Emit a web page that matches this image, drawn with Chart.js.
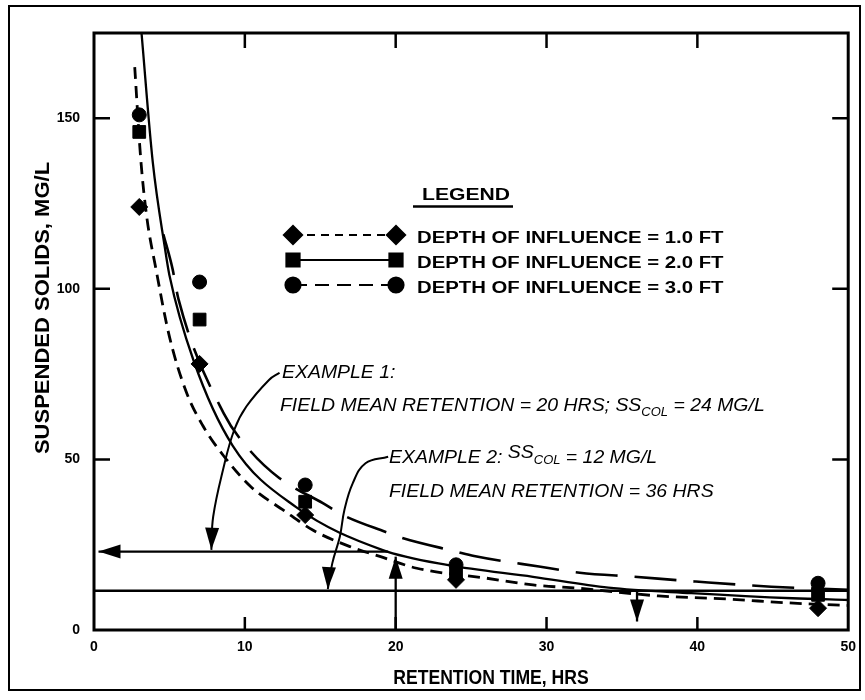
<!DOCTYPE html>
<html>
<head>
<meta charset="utf-8">
<script src="https://cdn.jsdelivr.net/npm/chart.js@4"></script>
<style>
  html, body { margin: 0; padding: 0; background: #fff; }
  #wrap { position: relative; width: 865px; height: 700px; }
  #wrap canvas { position: absolute; left: 0; top: 0; }
  #frame { position: absolute; left: 8px; top: 5px; width: 849px; height: 682px; border: 2px solid #000; pointer-events: none; }
</style>
</head>
<body>
<div id="wrap">
  <canvas id="ss-chart" width="865" height="700"></canvas>
  <div id="frame"></div>
</div>
<script>
// ==============================
// Data
// ==============================

const xTickValues = [0, 10, 20, 30, 40, 50];
const yTickValues = [0, 50, 100, 150];
const xAxisTitle = "RETENTION TIME, HRS";
const yAxisTitle = "SUSPENDED SOLIDS, MG/L";

// measured points (retention time, hrs)
const retentionTimes = [3, 7, 14, 24, 48];
const depth1Values = [124, 78, 33.7, 14.7, 6.4];   // diamonds
const depth2Values = [146, 91, 37.6, 16.6, 10.3];  // squares
const depth3Values = [151, 102, 42.5, 19.1, 13.7]; // circles

// fitted curves
const curve1X = [2.7, 3.1, 3.5, 4.1, 5.0, 6.1, 7.2, 8.6, 10.4, 12.6, 14.5, 17, 19, 21.4, 26, 29.1, 32.2, 37.4, 42.3, 45.8, 50];
const curve1Y = [165, 138, 121, 106, 86, 70, 60, 51, 42, 35, 29.3, 24.4, 21.5, 18.1, 15.2, 13.2, 12.2, 10, 9, 8, 7.2];

const curve2X = [3.15, 3.9, 4.7, 5.0, 6.6, 9.2, 13.4, 19.1, 23.5, 29.1, 34.1, 39.6, 46.3, 50];
const curve2Y = [175, 137, 112, 104, 79, 54, 36, 23.5, 19, 15.6, 12.4, 10.8, 9.3, 8.8];

const curve3X = [4.6, 5.2, 5.6, 8.6, 10.3, 12.3, 15.2, 16.5, 19.3, 20.5, 24, 25.2, 29.5, 32.2, 35.8, 39.9, 44.9, 50];
const curve3Y = [116, 106, 97, 63.5, 52.8, 44.5, 37.1, 33.7, 28.8, 26.9, 23, 21.7, 18.6, 16.8, 15.6, 14.2, 12.7, 11.8];

// worked examples
const example1LineX = [0.3, 19.5];
const example1LineY = [23, 23];
const example1RiseX = [20, 20];
const example1RiseY = [0, 21.5];
const example2LineX = [0, 50];
const example2LineY = [11.5, 11.5];
const example2DropX = [36, 36];
const example2DropY = [11.5, 2.5];

// leaders from the text to the lines
const leader1X = [7.78, 7.9, 8.55, 9.3, 10.1, 11.6, 12.3];
const leader1Y = [23.5, 33.2, 46.9, 58.7, 65.5, 73.3, 75.4];
const leader2X = [15.5, 15.8, 16.3, 16.6, 17.15, 18.0, 19.5];
const leader2Y = [12, 19.6, 27.4, 35.2, 43, 48.9, 50.8];

// arrow tips (data units) and pointing angle (deg, screen: 0 right, 90 down)
const arrowTipX = [0.3, 20, 36, 7.78, 15.5];
const arrowTipY = [23, 21.5, 2.5, 23.5, 12];
const arrowAngle = [180, 270, 90, 92, 93];

const legendLabels = [
    "DEPTH OF INFLUENCE = 1.0 FT",
    "DEPTH OF INFLUENCE = 2.0 FT",
    "DEPTH OF INFLUENCE = 3.0 FT"
];

// ==============================
// Helpers
// ==============================

const FONT = "'Liberation Sans', Arial, Helvetica, sans-serif";

function toPoints(xs, ys) {
    return xs.map(function (x, i) {
        return { x: x, y: ys[i] };
    });
}

function stretchText(ctx, str, x, y, font, sx) {
    ctx.save();
    ctx.font = font;
    ctx.textBaseline = "alphabetic";
    ctx.translate(x, y);
    ctx.scale(sx, 1);
    ctx.fillText(str, 0, 0);
    const w = ctx.measureText(str).width * sx;
    ctx.restore();
    return w;
}

function drawRuns(ctx, x, y, runs) {
    runs.forEach(function (r) {
        x += stretchText(ctx, r.t, x, y + (r.dy || 0), r.font, r.sx);
    });
}

function plainLine(xs, ys, width) {
    return {
        data: toPoints(xs, ys),
        borderColor: "#000",
        borderWidth: width,
        pointRadius: 0,
        tension: 0,
        clip: false
    };
}

// ==============================
// Plugins
// ==============================

const frameTicks = {
    id: "frameTicks",
    afterDraw(chart) {
        const { ctx, chartArea: a, scales: { x, y } } = chart;
        ctx.save();
        ctx.strokeStyle = "#000";
        ctx.lineWidth = 3;
        ctx.strokeRect(a.left, a.top, a.right - a.left, a.bottom - a.top);
        ctx.lineWidth = 2.5;
        ctx.beginPath();
        xTickValues.slice(1, -1).forEach(function (v) {
            const px = x.getPixelForValue(v);
            ctx.moveTo(px, a.bottom);
            ctx.lineTo(px, a.bottom - 13);
            ctx.moveTo(px, a.top);
            ctx.lineTo(px, a.top + 15);
        });
        yTickValues.slice(1).forEach(function (v) {
            const py = y.getPixelForValue(v);
            ctx.moveTo(a.left, py);
            ctx.lineTo(a.left + 16, py);
            ctx.moveTo(a.right, py);
            ctx.lineTo(a.right - 16, py);
        });
        ctx.stroke();

        // axis titles
        ctx.fillStyle = "#000";
        ctx.textAlign = "center";
        stretchText(ctx, xAxisTitle, 491, 684, "bold 20px " + FONT, 0.88);
        ctx.save();
        ctx.translate(49, 308);
        ctx.rotate(-Math.PI / 2);
        stretchText(ctx, yAxisTitle, 0, 0, "bold 20px " + FONT, 1.1);
        ctx.restore();
        ctx.restore();
    }
};

const annotations = {
    id: "annotations",
    afterDatasetsDraw(chart) {
        const { ctx, scales: { x, y } } = chart;
        const helpers = Chart.helpers;
        ctx.save();
        ctx.fillStyle = "#000";
        ctx.strokeStyle = "#000";
        ctx.textAlign = "left";

        // arrowheads
        arrowTipX.forEach(function (v, i) {
            const px = x.getPixelForValue(v);
            const py = y.getPixelForValue(arrowTipY[i]);
            const ang = arrowAngle[i] * Math.PI / 180;
            const dx = Math.cos(ang), dy = Math.sin(ang);
            const len = 22, half = 7;
            const bx = px - dx * len, by = py - dy * len;
            ctx.beginPath();
            ctx.moveTo(px, py);
            ctx.lineTo(bx - dy * half, by + dx * half);
            ctx.lineTo(bx + dy * half, by - dx * half);
            ctx.closePath();
            ctx.fill();
        });

        // legend
        const lgFont = "bold 16px " + FONT;
        stretchText(ctx, "LEGEND", 422, 200, "bold 16.5px " + FONT, 1.28);
        ctx.lineWidth = 2.5;
        ctx.beginPath();
        ctx.moveTo(413, 206.5);
        ctx.lineTo(513, 206.5);
        ctx.stroke();

        const rowY = [235, 260, 285];
        const rowDash = [[8, 6], [], [14, 8]];
        const rowStyle = ["rectRot", "rect", "circle"];
        const rowRadius = [9, 9.5, 7.5];
        rowY.forEach(function (ry, i) {
            ctx.lineWidth = i === 1 ? 1.8 : 2.2;
            ctx.setLineDash(rowDash[i]);
            ctx.beginPath();
            ctx.moveTo(293, ry);
            ctx.lineTo(396, ry);
            ctx.stroke();
            ctx.setLineDash([]);
            [293, 396].forEach(function (mx) {
                helpers.drawPoint(ctx, { pointStyle: rowStyle[i], radius: rowRadius[i], rotation: 0, borderWidth: 1 }, mx, ry);
                ctx.fill();
            });
            stretchText(ctx, legendLabels[i], 417, ry + 8, lgFont, 1.27);
        });

        // example texts
        const it = "italic 18px " + FONT;
        const sub = "italic 12px " + FONT;
        const sx = 1.08;
        drawRuns(ctx, 282, 378, [{ t: "EXAMPLE 1:", font: it, sx: sx }]);
        drawRuns(ctx, 280, 411, [
            { t: "FIELD MEAN RETENTION = 20 HRS; SS", font: it, sx: sx },
            { t: "COL", font: sub, sx: sx, dy: 5 },
            { t: " = 24 MG/L", font: it, sx: sx }
        ]);
        drawRuns(ctx, 389, 463, [
            { t: "EXAMPLE 2: ", font: it, sx: sx },
            { t: "SS", font: it, sx: sx, dy: -5 },
            { t: "COL", font: sub, sx: sx, dy: 1 },
            { t: " = 12 MG/L", font: it, sx: sx }
        ]);
        drawRuns(ctx, 389, 497, [{ t: "FIELD MEAN RETENTION = 36 HRS", font: it, sx: sx }]);
        ctx.restore();
    }
};

// ==============================
// Create Chart
// ==============================

const markerBase = {
    showLine: false,
    backgroundColor: "#000",
    borderColor: "#000",
    borderWidth: 1,
    clip: false
};

const ssChart = new Chart(document.getElementById("ss-chart"), {
    type: "line",
    data: {
        datasets: [
            Object.assign({ data: toPoints(retentionTimes, depth1Values), pointStyle: "rectRot", pointRadius: 8.5 }, markerBase),
            Object.assign({ data: toPoints(retentionTimes, depth2Values), pointStyle: "rect", pointRadius: 9 }, markerBase),
            Object.assign({ data: toPoints(retentionTimes, depth3Values), pointStyle: "circle", pointRadius: 7 }, markerBase),
            {
                data: toPoints(curve1X, curve1Y),
                borderColor: "#000",
                borderWidth: 2.8,
                borderDash: [12, 7],
                pointRadius: 0,
                cubicInterpolationMode: "monotone"
            },
            {
                data: toPoints(curve2X, curve2Y),
                borderColor: "#000",
                borderWidth: 2.3,
                pointRadius: 0,
                cubicInterpolationMode: "monotone"
            },
            {
                data: toPoints(curve3X, curve3Y),
                borderColor: "#000",
                borderWidth: 2.6,
                borderDash: [42, 17],
                pointRadius: 0,
                cubicInterpolationMode: "monotone"
            },
            plainLine(example1LineX, example1LineY, 2.3),
            plainLine(example1RiseX, example1RiseY, 2.3),
            plainLine(example2LineX, example2LineY, 2.3),
            plainLine(example2DropX, example2DropY, 2.3),
            Object.assign(plainLine(leader1X, leader1Y, 2), { tension: 0.4 }),
            Object.assign(plainLine(leader2X, leader2Y, 2), { tension: 0.4 })
        ]
    },
    options: {
        responsive: false,
        animation: false,
        devicePixelRatio: 1,
        layout: { padding: { top: 33, right: 15, left: 0, bottom: 0 } },
        plugins: {
            legend: { display: false },
            tooltip: { enabled: false }
        },
        scales: {
            x: {
                type: "linear",
                min: 0,
                max: 50,
                afterBuildTicks: function (s) {
                    s.ticks = xTickValues.map(function (v) { return { value: v }; });
                },
                afterFit: function (s) { s.height = 70; },
                grid: { display: false, drawTicks: false },
                border: { display: false },
                ticks: { padding: 9, color: "#000", font: { family: FONT, size: 14, weight: "bold" } }
            },
            y: {
                type: "linear",
                min: 0,
                max: 175,
                afterBuildTicks: function (s) {
                    s.ticks = yTickValues.map(function (v) { return { value: v }; });
                },
                afterFit: function (s) { s.width = 94; },
                grid: { display: false, drawTicks: false },
                border: { display: false },
                ticks: { padding: 14, color: "#000", font: { family: FONT, size: 14, weight: "bold" } }
            }
        }
    },
    plugins: [frameTicks, annotations]
});
</script>
</body>
</html>
